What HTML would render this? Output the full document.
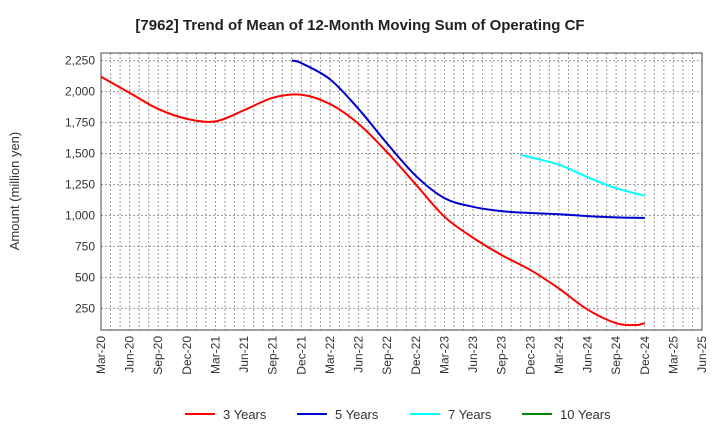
<!DOCTYPE html>
<html><head><meta charset="utf-8"><style>
body{margin:0;background:#fff;font-family:"Liberation Sans",Arial,sans-serif}
svg text{font-family:"Liberation Sans",Arial,sans-serif}
</style></head><body>
<svg id="c" width="720" height="440" xmlns="http://www.w3.org/2000/svg">
<text x="360" y="30" text-anchor="middle" font-size="15" font-weight="bold" fill="#222">[7962]  Trend of Mean of 12-Month Moving Sum of Operating CF</text>
<text transform="translate(19,191) rotate(-90)" text-anchor="middle" font-size="13" fill="#333">Amount (million yen)</text>
<g id="grid"></g><g id="axes"></g><g id="series"></g><g id="legend"></g>
</svg>
<script>
const xLabels=["Mar-20","Jun-20","Sep-20","Dec-20","Mar-21","Jun-21","Sep-21","Dec-21","Mar-22","Jun-22","Sep-22","Dec-22","Mar-23","Jun-23","Sep-23","Dec-23","Mar-24","Jun-24","Sep-24","Dec-24","Mar-25","Jun-25"];
const yTicks=[250,500,750,1000,1250,1500,1750,2000,2250];
const s3m=[0,3,6,9,12,15,18,21,24,27,30,33,36,39,42,45,48,51,54,56,57];
const s3v=[2120,1990,1860,1780,1760,1850,1950,1975,1900,1740,1510,1250,990,820,680,560,410,240,130,115,130];
const s5m=[20,21,24,27,30,33,36,39,42,45,48,51,54,57];
const s5v=[2250,2230,2100,1860,1580,1320,1140,1070,1035,1020,1010,995,985,980];
const s7m=[44,45,48,51,54,57];
const s7v=[1490,1470,1410,1310,1220,1160];
const s10m=[];const s10v=[];
const L=101,R=702,T=53,B=330,yMin=75,yMax=2312,nMonths=63;
const X=m=>L+m*(R-L)/nMonths, Y=v=>B-(v-yMin)/(yMax-yMin)*(B-T);
const NS="http://www.w3.org/2000/svg";
function mk(t,a,p){const e=document.createElementNS(NS,t);for(const k in a)e.setAttribute(k,a[k]);p.appendChild(e);return e;}
const g=document.getElementById('grid'),ax=document.getElementById('axes'),se=document.getElementById('series'),lg=document.getElementById('legend');
for(let m=1;m<nMonths;m++){const l=mk('line',{x1:X(m),x2:X(m),y1:T,y2:B,stroke:'#999','stroke-width':1,'stroke-dasharray':'2,2'},g);
}
yTicks.forEach(v=>{const l=mk('line',{x1:L,x2:R,y1:Y(v),y2:Y(v),stroke:'#999','stroke-width':1,'stroke-dasharray':'2,2'},g);

const t=mk('text',{x:L-6,y:Y(v)+4,'text-anchor':'end','font-size':12,fill:'#333'},ax);t.textContent=v.toLocaleString('en-US');
});
xLabels.forEach((s,i)=>{const x=X(i*3);const t=mk('text',{transform:`translate(${x+4},${B+6}) rotate(-90)`,'text-anchor':'end','font-size':12,fill:'#333'},ax);t.textContent=s;
});
const fr=mk('rect',{x:L,y:T,width:R-L,height:B-T,fill:'none',stroke:'#444','stroke-width':1},ax);

function path(ms,vs){if(!ms.length)return'';const p=ms.map((m,i)=>[X(m),Y(vs[i])]);let d=`M${p[0][0]},${p[0][1]}`;
for(let i=0;i<p.length-1;i++){const p0=p[i-1]||p[i],p1=p[i],p2=p[i+1],p3=p[i+2]||p2;
d+=`C${p1[0]+(p2[0]-p0[0])/6},${p1[1]+(p2[1]-p0[1])/6} ${p2[0]-(p3[0]-p1[0])/6},${p2[1]-(p3[1]-p1[1])/6} ${p2[0]},${p2[1]}`;}return d;}
const ser=[["3 Years",s3m,s3v,"#f00"],["5 Years",s5m,s5v,"#00c"],["7 Years",s7m,s7v,"#0ff"],["10 Years",s10m,s10v,"#080"]];
const lx=[185,297,410,522];
ser.forEach((s,i)=>{if(s[1].length){const p=mk('path',{d:path(s[1],s[2]),fill:'none',stroke:s[3],'stroke-width':2},se);
}
const gg=mk('g',{},lg);
mk('line',{x1:lx[i],x2:lx[i]+30,y1:414,y2:414,stroke:s[3],'stroke-width':2},gg);
const t=mk('text',{x:lx[i]+38,y:419,'font-size':13,fill:'#333'},gg);t.textContent=s[0];});
</script>
</body></html>
